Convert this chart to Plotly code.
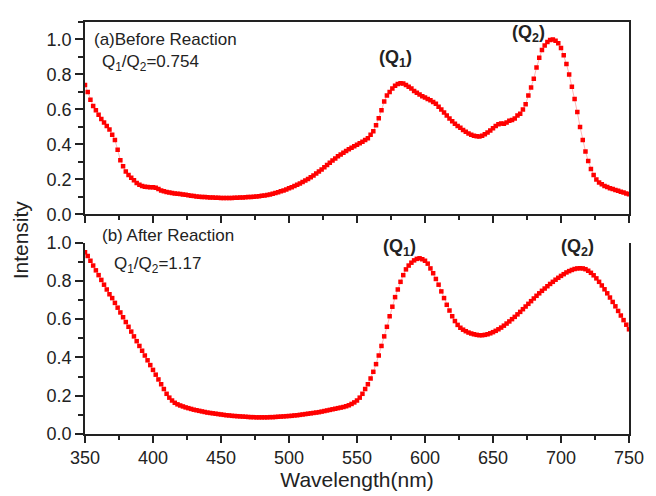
import plotly.graph_objects as go

# Absorption spectra sampled every 2 nm from 350 to 750 nm
wavelength = list(range(350, 752, 2))

before_reaction = [
    0.74, 0.70, 0.655, 0.62, 0.595, 0.57, 0.545, 0.525, 0.505, 0.485,
    0.455, 0.425, 0.37, 0.31, 0.275, 0.245, 0.225, 0.21, 0.195, 0.18,
    0.17, 0.163, 0.158, 0.156, 0.155, 0.155, 0.153, 0.145, 0.137, 0.132,
    0.128, 0.125, 0.122, 0.12, 0.118, 0.116, 0.114, 0.112, 0.11, 0.107,
    0.105, 0.103, 0.101, 0.1, 0.099, 0.098, 0.097, 0.096, 0.095, 0.095,
    0.094, 0.094, 0.094, 0.094, 0.094, 0.095, 0.095, 0.096, 0.097, 0.098,
    0.099, 0.1, 0.101, 0.102, 0.104, 0.106, 0.108, 0.111, 0.114, 0.118,
    0.122, 0.127, 0.132, 0.137, 0.143, 0.149, 0.155, 0.162, 0.169, 0.177,
    0.185, 0.194, 0.203, 0.213, 0.223, 0.234, 0.245, 0.257, 0.27, 0.283,
    0.296, 0.308, 0.32, 0.332, 0.343, 0.353, 0.363, 0.372, 0.381, 0.39,
    0.398, 0.407, 0.415, 0.425, 0.436, 0.455, 0.475, 0.51, 0.55, 0.595,
    0.645, 0.68, 0.70, 0.72, 0.735, 0.745, 0.75, 0.748, 0.74, 0.73,
    0.72, 0.705, 0.695, 0.685, 0.675, 0.668, 0.66, 0.652, 0.643, 0.632,
    0.615, 0.6, 0.583, 0.565, 0.548, 0.532, 0.518, 0.505, 0.495, 0.483,
    0.472, 0.463, 0.456, 0.45, 0.447, 0.446, 0.45, 0.458, 0.468, 0.48,
    0.492, 0.505, 0.515, 0.52, 0.518, 0.525, 0.535, 0.54, 0.548, 0.565,
    0.575, 0.60, 0.63, 0.68, 0.725, 0.775, 0.84, 0.895, 0.94, 0.965,
    0.985, 0.997, 1.0, 0.993, 0.978, 0.952, 0.91, 0.86, 0.80, 0.73,
    0.66, 0.585, 0.5, 0.425, 0.36, 0.305, 0.26, 0.225, 0.2, 0.183,
    0.172, 0.163, 0.156, 0.15, 0.145, 0.14, 0.135, 0.13, 0.125, 0.12,
    0.115,
]

after_reaction = [
    0.95, 0.93, 0.905, 0.88, 0.855, 0.83, 0.805, 0.78, 0.755, 0.73,
    0.71, 0.685, 0.66, 0.635, 0.61, 0.585, 0.56, 0.535, 0.51, 0.485,
    0.46, 0.435, 0.41, 0.385, 0.36, 0.335, 0.31, 0.285, 0.26, 0.235,
    0.21, 0.19, 0.175, 0.163, 0.155, 0.149, 0.144, 0.139, 0.135, 0.131,
    0.127, 0.124, 0.121, 0.118, 0.115, 0.112, 0.11, 0.108, 0.106, 0.104,
    0.102, 0.1, 0.098, 0.097, 0.095, 0.094, 0.093, 0.092, 0.091, 0.09,
    0.089, 0.088, 0.088, 0.087, 0.087, 0.087, 0.087, 0.087, 0.088, 0.088,
    0.089, 0.09, 0.091, 0.092, 0.093, 0.094, 0.095, 0.097, 0.098, 0.1,
    0.102, 0.104, 0.106, 0.108, 0.11, 0.112, 0.114, 0.117, 0.12, 0.123,
    0.126, 0.129, 0.132, 0.135, 0.138, 0.141, 0.145, 0.15, 0.157, 0.165,
    0.175, 0.19, 0.21, 0.235, 0.26, 0.29, 0.325, 0.365, 0.41, 0.46,
    0.51, 0.56, 0.615, 0.665, 0.715, 0.755, 0.795, 0.83, 0.86, 0.88,
    0.895, 0.907, 0.915, 0.918, 0.913, 0.905, 0.89, 0.865, 0.84, 0.81,
    0.78, 0.745, 0.71, 0.675, 0.645, 0.615, 0.59, 0.57, 0.555, 0.545,
    0.537, 0.53, 0.525, 0.521, 0.518, 0.516, 0.516, 0.518, 0.521, 0.526,
    0.532, 0.539, 0.547, 0.556, 0.566, 0.577, 0.588, 0.6, 0.612, 0.625,
    0.638, 0.652, 0.666, 0.68, 0.694, 0.708, 0.722, 0.735, 0.748, 0.76,
    0.772, 0.784, 0.795, 0.806, 0.816, 0.826, 0.835, 0.844, 0.851, 0.857,
    0.862, 0.865, 0.866, 0.865, 0.861, 0.853, 0.842, 0.829, 0.813, 0.795,
    0.776, 0.756, 0.735, 0.713, 0.69, 0.667, 0.643, 0.619, 0.595, 0.571,
    0.547,
]

x_ticks = [350, 400, 450, 500, 550, 600, 650, 700, 750]
y_ticks = [0, 0.2, 0.4, 0.6, 0.8, 1.0]
y_ticktext = ["0.0", "0.2", "0.4", "0.6", "0.8", "1.0"]

FONT = "Arial, Liberation Sans, sans-serif"
INK = "#222222"
RED = "#ff0000"

fig = go.Figure()

for series, xa, ya in [(before_reaction, "x", "y"), (after_reaction, "x2", "y2")]:
    fig.add_trace(go.Scatter(
        x=wavelength, y=series, xaxis=xa, yaxis=ya,
        mode="lines+markers",
        line=dict(color="rgba(255,90,90,0.45)", width=1),
        marker=dict(symbol="square", size=4.5, color=RED, line=dict(width=0)),
        showlegend=False, hoverinfo="x+y",
    ))

axis_common = dict(
    showgrid=False, zeroline=False, showline=True, linecolor=INK, linewidth=1.5,
    ticks="outside", tickcolor=INK, tickwidth=1.5,
    tickfont=dict(family=FONT, size=18, color=INK),
)
minor_x = dict(dtick=25, tick0=350, ticks="outside", ticklen=4, tickcolor=INK, tickwidth=1.5)
minor_y = dict(dtick=0.1, tick0=0, ticks="outside", ticklen=5, tickcolor=INK, tickwidth=1.5)

fig.update_layout(
    width=656, height=496,
    margin=dict(l=85, r=19, t=13, b=59),
    paper_bgcolor="white", plot_bgcolor="white",
    font=dict(family=FONT, color=INK),
    xaxis=dict(
        **axis_common, domain=[0, 1], anchor="y", range=[350, 750],
        tickvals=x_ticks, showticklabels=False, ticklen=7, mirror=True, minor=minor_x,
    ),
    yaxis=dict(
        **axis_common, domain=[0.533, 1], anchor="x", range=[0, 1.1],
        tickvals=y_ticks, ticktext=y_ticktext, ticklen=8, mirror=True, minor=minor_y,
    ),
    xaxis2=dict(
        **axis_common, domain=[0, 1], anchor="y2", range=[350, 750],
        tickvals=x_ticks, ticklen=7, minor=minor_x,
        title=dict(text="Wavelength(nm)", font=dict(family=FONT, size=21, color=INK), standoff=1),
    ),
    yaxis2=dict(
        **axis_common, domain=[0, 0.4646], anchor="x2", range=[0, 1.0],
        tickvals=y_ticks, ticktext=y_ticktext, ticklen=8, mirror=True, minor=minor_y,
    ),
)

label_font = dict(family=FONT, size=17, color=INK)
bold_font = dict(family=FONT, size=18, color=INK)

annotations = [
    # top panel
    dict(text="(a)Before Reaction", x=0.0127, y=0.91, xref="x domain", yref="y domain",
         xanchor="left", yanchor="middle", font=label_font),
    dict(text="Q<sub>1</sub>/Q<sub>2</sub>=0.754", x=0.027, y=0.785, xref="x domain", yref="y domain",
         xanchor="left", yanchor="middle", font=label_font),
    dict(text="<b>(Q<sub>1</sub>)</b>", x=0.571, y=0.81, xref="x domain", yref="y domain",
         xanchor="center", yanchor="middle", font=bold_font),
    dict(text="<b>(Q<sub>2</sub>)</b>", x=0.815, y=0.94, xref="x domain", yref="y domain",
         xanchor="center", yanchor="middle", font=bold_font),
    # bottom panel
    dict(text="(b) After Reaction", x=0.027, y=1.035, xref="x2 domain", yref="y2 domain",
         xanchor="left", yanchor="middle", font=label_font),
    dict(text="Q<sub>1</sub>/Q<sub>2</sub>=1.17", x=0.049, y=0.885, xref="x2 domain", yref="y2 domain",
         xanchor="left", yanchor="middle", font=label_font),
    dict(text="<b>(Q<sub>1</sub>)</b>", x=0.578, y=0.975, xref="x2 domain", yref="y2 domain",
         xanchor="center", yanchor="middle", font=bold_font),
    dict(text="<b>(Q<sub>2</sub>)</b>", x=0.905, y=0.975, xref="x2 domain", yref="y2 domain",
         xanchor="center", yanchor="middle", font=bold_font),
    # shared y title
    dict(text="Intensity", x=-0.118, y=0.472, xref="paper", yref="paper", textangle=-90,
         xanchor="center", yanchor="middle",
         font=dict(family=FONT, size=21, color=INK)),
]
for a in annotations:
    a["showarrow"] = False
fig.update_layout(annotations=annotations)

fig.write_html("out.html")
